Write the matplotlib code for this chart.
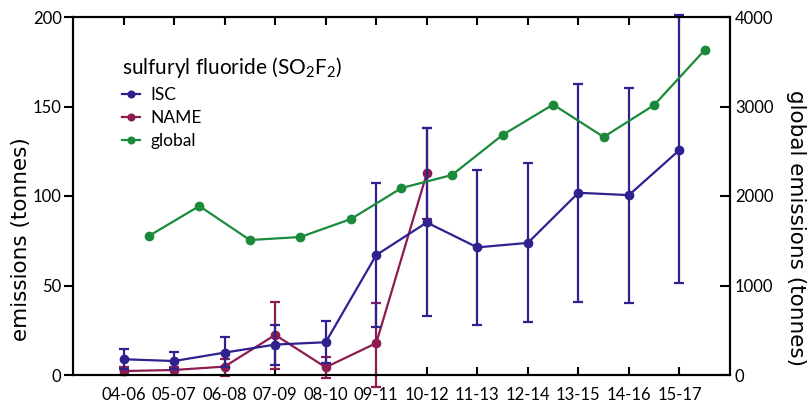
import numpy as np
import matplotlib
matplotlib.use("Agg")
import matplotlib.pyplot as plt

plt.rcParams['font.family'] = ['Lato', 'DejaVu Sans']
plt.rcParams['mathtext.fontset'] = 'custom'
plt.rcParams['mathtext.rm'] = 'Lato'
plt.rcParams['mathtext.it'] = 'Lato:italic'

periods = ['04-06', '05-07', '06-08', '07-09', '08-10', '09-11',
           '10-12', '11-13', '12-14', '13-15', '14-16', '15-17']

# regional estimates (tonnes), with upper / lower ends of the error bars
isc = [8.8, 7.8, 12.5, 17.0, 18.3, 67.0, 85.2, 71.3, 73.8, 101.8, 100.5, 125.7]
isc_hi = [14.6, 12.7, 21.5, 28.2, 30.0, 107.4, 138.0, 114.4, 118.6, 162.5, 160.6, 201.0]
isc_lo = [3.5, 3.5, 4.5, 5.4, 6.5, 27.0, 32.7, 28.0, 29.7, 40.7, 40.2, 51.4]

name = [2.2, 2.8, 4.7, 22.4, 4.3, 17.8, 112.6]
name_hi = [4.3, 4.3, 8.8, 40.9, 10.3, 40.2, 138.0]
name_lo = [0.0, 0.0, -0.5, 3.2, -1.5, -6.5, 87.0]

# global emissions (tonnes), one value per year, sits between the period ticks
global_em = [1553, 1888, 1508, 1542, 1743, 2089, 2235, 2682, 3022, 2659, 3017, 3631]

c_isc = '#2e2190'
c_name = '#8c1c52'
c_glob = '#1b8a3a'

fig = plt.figure(figsize=(8.09, 4.05), dpi=100)
ax = fig.add_axes([73/809, 30/405, 657/809, 358/405])

x = np.arange(len(periods))
xn = np.arange(len(name))
xg = np.arange(len(global_em)) + 0.5

isc = np.array(isc)
name = np.array(name)
eb_isc = ax.errorbar(x, isc, yerr=[isc - np.array(isc_lo), np.array(isc_hi) - isc],
                     color=c_isc, marker='o', ms=6, lw=1.6, elinewidth=1.6,
                     capsize=3.5, capthick=1.6, clip_on=False, zorder=3)
eb_name = ax.errorbar(xn, name, yerr=[name - np.array(name_lo), np.array(name_hi) - name],
                      color=c_name, marker='o', ms=6, lw=1.6, elinewidth=1.6,
                      capsize=3.5, capthick=1.6, clip_on=False, zorder=2)

ax.set_xlim(-1, 12)
ax.set_ylim(0, 200)
ax.set_xticks(x, periods)
ax.set_yticks([0, 50, 100, 150, 200])
ax.tick_params(axis='x', direction='in', top=True, length=6, width=1.5,
               labelsize=12, pad=9)
ax.tick_params(axis='y', direction='out', length=6.7, width=1.5, labelsize=12, pad=1.5)
for s in ax.spines.values():
    s.set_linewidth(1.5)
ax.set_ylabel('emissions (tonnes)', fontsize=15.5, family='DejaVu Sans', va='center')
ax.yaxis.set_label_coords(-0.079, 0.38)

ax2 = ax.twinx()
gl, = ax2.plot(xg, global_em, color=c_glob, marker='o', ms=6, lw=1.6)
ax2.set_ylim(0, 4000)
ax2.set_yticks([0, 1000, 2000, 3000, 4000])
ax2.tick_params(axis='y', direction='in', length=7.2, width=1.5, labelsize=12)
ax2.set_ylabel('global emissions (tonnes)', fontsize=15.5, family='DejaVu Sans',
               rotation=270, va='center')
ax2.yaxis.set_label_coords(1.1, 0.41)
for s in ax2.spines.values():
    s.set_linewidth(1.5)

leg = ax2.legend([eb_isc[0], eb_name[0], gl], ['ISC', 'NAME', 'global'],
                 title='sulfuryl fluoride (SO$_2$F$_2$)', title_fontsize=15,
                 fontsize=12.5, loc='upper left', bbox_to_anchor=(0.075, 0.893),
                 frameon=False, handlelength=1.0, handletextpad=0.6,
                 labelspacing=0.4, borderpad=0, borderaxespad=0,
                 alignment='left', markerscale=0.8)

plt.savefig('out.png', dpi=100)
